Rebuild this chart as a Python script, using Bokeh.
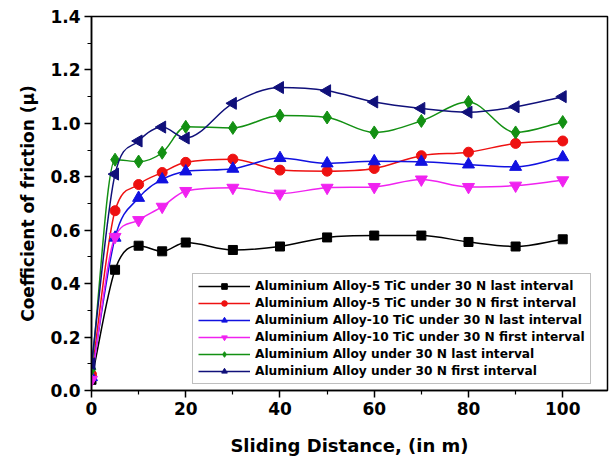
from bokeh.plotting import figure
from bokeh.models import (Range1d, FixedTicker, Legend, LegendItem,
                          ColumnDataSource, NumeralTickFormatter)
from bokeh.embed import file_html
from bokeh.resources import INLINE
import math

# ---- data ----
distance = [0, 5, 10, 15, 20, 30, 40, 50, 60, 70, 80, 90, 100]
al5_last = [0.04, 0.452, 0.542, 0.521, 0.554, 0.526, 0.539, 0.573, 0.580, 0.580, 0.556, 0.539, 0.566]
al5_first = [0.06, 0.673, 0.771, 0.816, 0.854, 0.866, 0.825, 0.821, 0.831, 0.879, 0.892, 0.925, 0.934]
al10_last = [0.05, 0.572, 0.721, 0.790, 0.820, 0.830, 0.870, 0.850, 0.858, 0.856, 0.846, 0.837, 0.873]
al10_first = [0.04, 0.575, 0.638, 0.688, 0.747, 0.759, 0.737, 0.759, 0.762, 0.790, 0.762, 0.767, 0.787]
al_last = [0.08, 0.864, 0.857, 0.890, 0.987, 0.983, 1.029, 1.022, 0.966, 1.009, 1.080, 0.966, 1.005]
al_first = [0.10, 0.810, 0.934, 0.986, 0.945, 1.075, 1.134, 1.122, 1.080, 1.056, 1.042, 1.062, 1.100]

series_names = [
    "Aluminium Alloy-5 TiC under 30 N last interval",
    "Aluminium Alloy-5 TiC under 30 N first interval",
    "Aluminium Alloy-10 TiC under 30 N last interval",
    "Aluminium Alloy-10 TiC under 30 N first interval",
    "Aluminium Alloy under 30 N last interval",
    "Aluminium Alloy under 30 N first interval",
]
series_values = [al5_last, al5_first, al10_last, al10_first, al_last, al_first]
series_colors = ["#000000", "#EE1111", "#1111E0", "#F022F0", "#139013", "#10107A"]
series_markers = ["square", "circle", "triangle", "inverted_triangle", "diamond", "triangle"]
series_angles = [0, 0, 0, 0, 0, math.pi / 2]
series_sizes = [9, 10, 12, 12, 13, 12]
legend_sizes = [7, 8, 9, 9, 10, 9]

x_ticks = [0, 20, 40, 60, 80, 100]
x_minor = [10, 30, 50, 70, 90]
y_ticks = [0.0, 0.2, 0.4, 0.6, 0.8, 1.0, 1.2, 1.4]
y_minor = [0.1, 0.3, 0.5, 0.7, 0.9, 1.1, 1.3]


def smooth_segments(xs, ys):
    """Cubic Hermite segments (Bezier control points) through the data points."""
    n = len(xs)
    sec = [(ys[i + 1] - ys[i]) / (xs[i + 1] - xs[i]) for i in range(n - 1)]
    slopes = [sec[0]]
    for i in range(1, n - 1):
        a, b = sec[i - 1], sec[i]
        if a * b <= 0:
            slopes.append(0.0)
        else:
            m = (ys[i + 1] - ys[i - 1]) / (xs[i + 1] - xs[i - 1])
            lim = 3 * min(abs(a), abs(b))
            slopes.append(max(-lim, min(lim, m)))
    slopes.append(sec[-1])
    d = dict(x0=[], y0=[], x1=[], y1=[], cx0=[], cy0=[], cx1=[], cy1=[])
    for i in range(n - 1):
        h = xs[i + 1] - xs[i]
        d["x0"].append(xs[i]); d["y0"].append(ys[i])
        d["x1"].append(xs[i + 1]); d["y1"].append(ys[i + 1])
        d["cx0"].append(xs[i] + h / 3); d["cy0"].append(ys[i] + slopes[i] * h / 3)
        d["cx1"].append(xs[i + 1] - h / 3); d["cy1"].append(ys[i + 1] - slopes[i + 1] * h / 3)
    return d


p = figure(width=609, height=460, output_backend="svg", toolbar_location=None,
           x_range=Range1d(0, 109.5), y_range=Range1d(0, 1.4),
           min_border_left=91, min_border_right=2, min_border_top=16, min_border_bottom=70)

p.background_fill_color = "white"
p.border_fill_color = "white"
p.outline_line_color = "black"
p.outline_line_width = 1.5
p.xgrid.visible = False
p.ygrid.visible = False

FONT = "DejaVu Sans"
for ax in (p.xaxis, p.yaxis):
    ax.axis_line_width = 1.5
    ax.major_tick_line_width = 1.5
    ax.minor_tick_line_width = 1.2
    ax.major_tick_in = 0
    ax.major_tick_out = 7
    ax.minor_tick_in = 0
    ax.minor_tick_out = 4
    ax.major_label_text_font = FONT
    ax.major_label_text_font_style = "bold"
    ax.major_label_text_font_size = "17px"
    ax.major_label_text_color = "black"
    ax.axis_label_text_font = FONT
    ax.axis_label_text_font_style = "bold"
    ax.axis_label_text_color = "black"

p.xaxis.ticker = FixedTicker(ticks=x_ticks, minor_ticks=x_minor)
p.yaxis.ticker = FixedTicker(ticks=y_ticks, minor_ticks=y_minor)
p.yaxis.formatter = NumeralTickFormatter(format="0.0")
p.xaxis.axis_label = "Sliding Distance, (in m)"
p.yaxis.axis_label = "Coefficient of friction (\u03bc)"
p.xaxis.axis_label_text_font_size = "18px"
p.yaxis.axis_label_text_font_size = "17px"
p.xaxis.major_label_standoff = 4
p.yaxis.major_label_standoff = 4
p.xaxis.axis_label_standoff = 17
p.yaxis.axis_label_standoff = 9

items = []
for name, vals, col, mk, ang, sz, lsz in zip(series_names, series_values, series_colors,
                                             series_markers, series_angles, series_sizes,
                                             legend_sizes):
    seg = ColumnDataSource(smooth_segments(distance, vals))
    p.bezier(x0="x0", y0="y0", x1="x1", y1="y1", cx0="cx0", cy0="cy0",
             cx1="cx1", cy1="cy1", source=seg, line_color=col, line_width=1.5)
    # one-point line: draws nothing in the plot, supplies the legend's line sample
    leg_line = p.line(x=distance[:1], y=vals[:1], line_color=col, line_width=1.5)
    # smaller legend marker (hidden under the first plotted marker)
    leg_mark = p.scatter(x=distance[:1], y=vals[:1], marker=mk, size=lsz, angle=ang,
                         fill_color=col, line_color=col)
    pts = ColumnDataSource(dict(x=distance, y=vals))
    p.scatter(x="x", y="y", source=pts, marker=mk, size=sz, angle=ang,
              fill_color=col, line_color=col)
    items.append(LegendItem(label=name, renderers=[leg_line, leg_mark]))

legend = Legend(items=items, location=(101, 6), padding=5, spacing=3,
                label_height=14, glyph_height=14, glyph_width=52, label_standoff=5,
                label_text_font=FONT, label_text_font_style="bold",
                label_text_font_size="12.2px", label_text_color="black",
                label_width=330,
                border_line_color="#808080", border_line_width=1,
                background_fill_color="white", background_fill_alpha=1.0,
                margin=0)
p.add_layout(legend)

open("out.html", "w").write(file_html(p, INLINE))
